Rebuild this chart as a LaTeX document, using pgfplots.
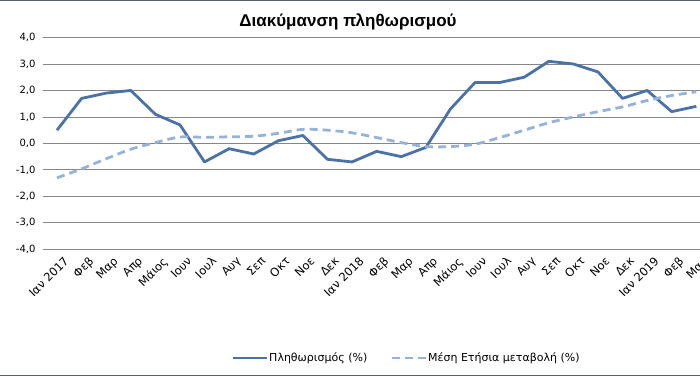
\documentclass[border=0pt]{standalone}
\usepackage{pgfplots}
\pgfplotsset{compat=1.18}
\usepackage{fontspec}
\setmainfont{DejaVu Sans}
\newfontfamily\titlefont{Liberation Sans}
\definecolor{infl}{RGB}{74,114,166}
\definecolor{avg}{RGB}{149,179,215}
\definecolor{gridc}{RGB}{134,134,134}
\definecolor{frame}{RGB}{80,96,112}
\begin{document}
\begin{tikzpicture}[x=1pt,y=1pt]
\path[use as bounding box] (0,0) rectangle (700,376);
\draw[frame,line width=1.5pt] (0,375.25) -- (700,375.25);
\draw[frame,line width=1.5pt] (0,0.75) -- (700,0.75);
\node[font=\titlefont\bfseries\fontsize{17}{19}\selectfont] at (348,354) {Διακύμανση πληθωρισμού};
\begin{axis}[
  at={(43pt,126.7pt)}, anchor=south west,
  scale only axis, width=657pt, height=211.8pt,
  xmin=-0.57, xmax=26.15, ymin=-4, ymax=4,
  clip=false,
  axis line style={draw=none},
  tick style={draw=none},
  ytick={-4,-3,...,4},
  yticklabels={{-4,0},{-3,0},{-2,0},{-1,0},{0,0},{1,0},{2,0},{3,0},{4,0}},
  yticklabel style={font=\fontsize{10}{12}\selectfont, xshift=-4pt},
  ymajorgrids, grid style={gridc, line width=0.8pt},
  xtick={0,...,26},
  xticklabels={Ιαν 2017,Φεβ,Μαρ,Απρ,Μάιος,Ιουν,Ιουλ,Αυγ,Σεπ,Οκτ,Νοε,Δεκ,Ιαν 2018,Φεβ,Μαρ,Απρ,Μάιος,Ιουν,Ιουλ,Αυγ,Σεπ,Οκτ,Νοε,Δεκ,Ιαν 2019,Φεβ,Μαρ},
  xticklabel style={font=\fontsize{11.5}{13}\selectfont, rotate=45, anchor=north east, inner sep=1pt, yshift=-8pt, xshift=1pt},
  legend columns=2,
  legend style={draw=none, fill=none, at={(0.5525,-0.513)}, anchor=center,
    font=\fontsize{11}{13}\selectfont,
    nodes={inner sep=1pt},
    /tikz/every even column/.append style={column sep=22pt}},
  legend cell align=left,
  legend image code/.code={\draw[#1] (0pt,0pt) -- (34pt,0pt);},
]
\addplot[infl, line width=2.8pt, line join=round] coordinates {
(0,0.5)(1,1.7)(2,1.9)(3,2.0)(4,1.1)(5,0.7)(6,-0.7)(7,-0.2)(8,-0.4)(9,0.1)(10,0.3)(11,-0.6)(12,-0.7)
(13,-0.3)(14,-0.5)(15,-0.15)(16,1.3)(17,2.3)(18,2.3)(19,2.5)(20,3.1)(21,3.0)(22,2.7)(23,1.7)(24,2.0)(25,1.2)(26,1.4)};
\addlegendentry{Πληθωρισμός (\%)}
\addplot[avg, line width=2.8pt, dash pattern=on 8pt off 5pt, smooth] coordinates {
(0,-1.3)(1,-0.96)(2,-0.58)(3,-0.22)(4,0.03)(5,0.24)(6,0.23)(7,0.25)(8,0.27)(9,0.38)(10,0.53)(11,0.5)(12,0.4)
(13,0.22)(14,0.03)(15,-0.12)(16,-0.12)(17,-0.03)(18,0.22)(19,0.5)(20,0.78)(21,1.0)(22,1.2)(23,1.38)(24,1.62)(25,1.81)(26,1.95)};
\addlegendentry{Μέση Ετήσια μεταβολή (\%)}
\end{axis}
\end{tikzpicture}
\end{document}
